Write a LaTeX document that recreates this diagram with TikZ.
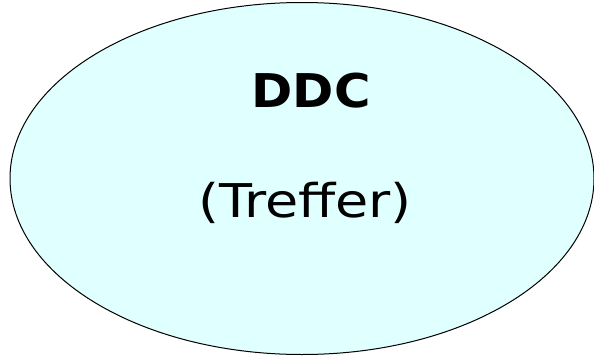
\documentclass[tikz,border=0pt]{standalone}
\usepackage{fontspec}
\setmainfont{DejaVu Sans}
\usetikzlibrary{shapes.geometric}
\definecolor{ellfill}{HTML}{E0FFFF}
\tikzset{
  ell/.style={ellipse, draw=black, line width=1pt, fill=ellfill, minimum width=584pt, minimum height=352pt, inner sep=0pt},
  lbl/.style={font=\fontsize{46.5}{50}\selectfont, inner sep=0pt}
}
\begin{document}
\begin{tikzpicture}[x=1pt,y=1pt]
\useasboundingbox (0,0) rectangle (594,357);
\node[ell] (e) at (302,178.5) {};
\node[lbl, font=\fontsize{46.5}{50}\selectfont\bfseries, anchor=base, xscale=1.07, transform shape] (t1) at (311,250) {DDC};
\node[lbl, anchor=base, xscale=1.16, transform shape] (t2) at (305,140) {(Treffer)};
\end{tikzpicture}
\end{document}
